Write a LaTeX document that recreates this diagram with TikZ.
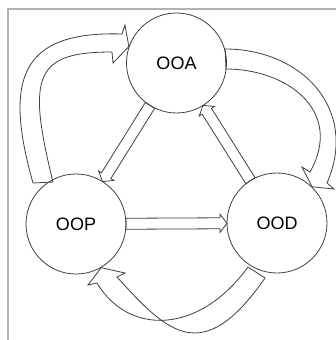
\documentclass[tikz,border=0pt]{standalone}
\usepackage{fontspec}
\setmainfont{Liberation Sans}
\usetikzlibrary{calc}

\tikzset{
  phase/.style={circle, draw=black!75, line width=0.8pt, minimum size=100pt,
    inner sep=0pt, font=\fontsize{18}{20}\selectfont},
  arrowline/.style={draw=black!75, line width=0.8pt, line join=miter},
  frameline/.style={draw=black!30, line width=2pt}
}

% straight hollow block arrow from the border of #1 to the border of #2
\newcommand\hollowarrow[2]{%
  \coordinate (s) at ($(#1)!50pt!(#2)$);
  \coordinate (e) at ($(#2)!50pt!(#1)$);
  \coordinate (h) at ($(e)!7pt!(s)$);
  \draw[arrowline]
    ($(s)!5.5pt!90:(e)$) -- ($(h)!5.5pt!90:(e)$) -- ($(h)!9pt!90:(e)$)
    -- (e)
    -- ($(h)!9pt!-90:(e)$) -- ($(h)!5.5pt!-90:(e)$) -- ($(s)!5.5pt!-90:(e)$)
    -- cycle;
}

\begin{document}
\begin{tikzpicture}[x=1pt,y=-1pt]
  \useasboundingbox (0,0) rectangle (336,340);
  \fill[white] (0,0) rectangle (336,340);

  % page frame
  \draw[frameline] (8,341) -- (8,9) -- (337,9);

  % the three phases
  \node[phase] (ooa) at (176.5,63) {OOA};
  \node[phase] (oop) at (76,224) {OOP};
  \node[phase] (ood) at (277,223) {OOD};

  % straight arrows between the phases
  \hollowarrow{ooa}{oop}
  \hollowarrow{oop}{ood}
  \hollowarrow{ood}{ooa}

  % curved arrow: OOP back to OOA (left)
  \draw[arrowline]
    (33,183) .. controls (3,77) and (22,31) .. (122,34)
    -- (125,25) -- (ooa.161) -- (113,63) -- (112,52)
    .. controls (35,52) and (26.6,75.3) .. (53,182) -- cycle;

  % curved arrow: OOA to OOD (right)
  \draw[arrowline]
    (225,49) .. controls (302,49) and (359,109.4) .. (327,183)
    -- (334,189) -- (ood.46) -- (302,167) -- (310,172)
    .. controls (344.3,111) and (287,69) .. (226,69) -- cycle;

  % curved arrow: OOD to OOP (bottom)
  \draw[arrowline]
    (265,278) .. controls (202.3,368.2) and (167.3,332.5) .. (117,277)
    -- (125,273) -- (oop.-60) -- (88,285) -- (97,283)
    .. controls (127.6,334.6) and (197.9,335.9) .. (248,267) -- cycle;
\end{tikzpicture}
\end{document}
